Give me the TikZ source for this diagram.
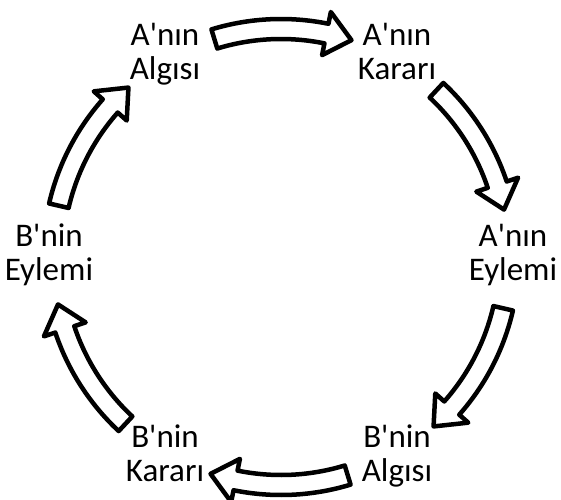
\documentclass[tikz,border=0pt]{standalone}
\usepackage{fontspec}
\setmainfont{Carlito}[Ligatures=TeXOff]
\usetikzlibrary{calc}

\tikzset{
  etapa/.style={align=center, inner sep=0pt, font=\fontsize{33}{34}\selectfont,
    execute at begin node=\strut, execute at end node=\strut},
  setabloco/.style={draw=black, fill=white, line width=4.5pt, line join=round},
}
% seta curva ao redor de (C): #1 angulo da cauda, #2 angulo da ponta
\newcommand{\setacurva}[2]{%
  \pgfmathsetmacro{\angbase}{#2+6.5}
  \draw[setabloco] ($(C)+(#1:238pt)$) arc[start angle=#1, end angle=\angbase, radius=238pt]
    -- ($(C)+(\angbase:250pt)$) -- ($(C)+(#2:228pt)$) -- ($(C)+(\angbase:206pt)$)
    -- ($(C)+(\angbase:218pt)$) arc[start angle=\angbase, end angle=#1, radius=218pt] -- cycle;
}

\begin{document}
\begin{tikzpicture}
  \useasboundingbox (0,0) rectangle (561pt,499pt);
  \coordinate (C) at (281pt,242pt);
  % etapas do ciclo
  \node[etapa] (aalg) at ($(C)+(120:232pt)$) {A'nın\\Algısı};
  \node[etapa] (akar) at ($(C)+(60:232pt)$) {A'nın\\Kararı};
  \node[etapa] (aeyl) at ($(C)+(0:232pt)$) {A'nın\\Eylemi};
  \node[etapa] (balg) at ($(C)+(-60:232pt)$) {B'nin\\Algısı};
  \node[etapa] (bkar) at ($(C)+(-120:232pt)$) {B'nin\\Kararı};
  \node[etapa] (beyl) at ($(C)+(180:232pt)$) {B'nin\\Eylemi};
  % setas
  \setacurva{107}{72}
  \setacurva{47}{12}
  \setacurva{-13}{-48}
  \setacurva{-73}{-108}
  \setacurva{-133}{-168}
  \setacurva{167}{132}
\end{tikzpicture}
\end{document}
